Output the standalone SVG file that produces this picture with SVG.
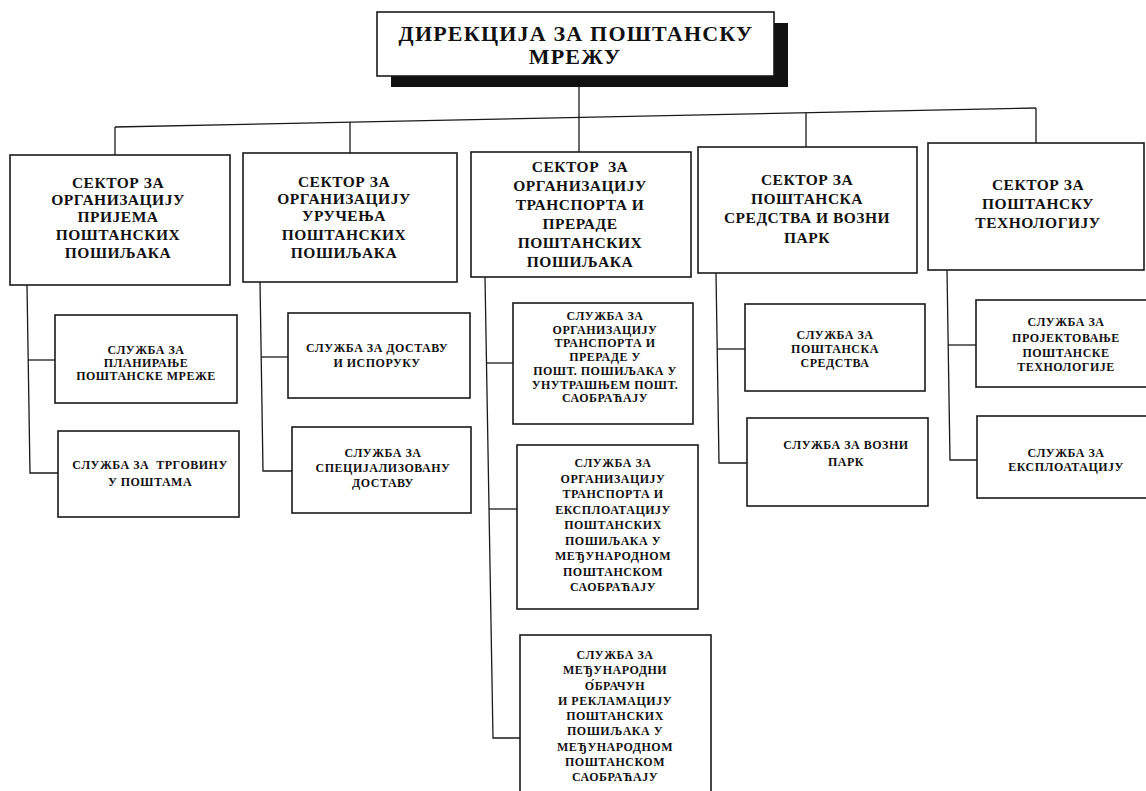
<svg xmlns="http://www.w3.org/2000/svg" width="1146" height="791" viewBox="0 0 1146 791">
<style>
.bg{fill:#ffffff}
.box{fill:#ffffff;stroke:#1a1a1a;stroke-width:1.6}
.shadow{fill:#111111}
.conn{fill:none;stroke:#1a1a1a;stroke-width:1.3}
text{font-family:"Liberation Serif","Times New Roman",serif;font-weight:bold;fill:#111111;text-anchor:middle}
.t0{font-size:22px;letter-spacing:1.2px}
.t1{font-size:15.5px;letter-spacing:0.5px}
.t2{font-size:12px;letter-spacing:0.5px}
</style>
<rect class="bg" x="0" y="0" width="1146" height="791"/>

<g id="connectors">
<line class="conn" x1="579" y1="87" x2="579" y2="117"/>
<line class="conn" x1="115" y1="127" x2="1036" y2="108"/>
<line class="conn" x1="115" y1="127" x2="115" y2="155"/>
<line class="conn" x1="350" y1="122" x2="350" y2="153"/>
<line class="conn" x1="579" y1="117" x2="579" y2="152"/>
<line class="conn" x1="806" y1="113" x2="806" y2="147"/>
<line class="conn" x1="1036" y1="108" x2="1036" y2="143"/>
<polyline class="conn" points="27,285 30,473 58,473"/>
<line class="conn" x1="28" y1="360" x2="55" y2="360"/>
<polyline class="conn" points="260,282 263,471 292,471"/>
<line class="conn" x1="261" y1="357" x2="288" y2="357"/>
<polyline class="conn" points="485,277 493,738 520,738"/>
<line class="conn" x1="487" y1="363" x2="513" y2="363"/>
<line class="conn" x1="489" y1="509" x2="517" y2="509"/>
<polyline class="conn" points="716,273 719,463 747,463"/>
<line class="conn" x1="717" y1="349" x2="745" y2="349"/>
<polyline class="conn" points="947,270 950,460 977,460"/>
<line class="conn" x1="948" y1="345" x2="976" y2="345"/>
</g>

<g id="n-direkcija">
<rect class="shadow" x="391" y="23" width="397" height="64"/>
<rect class="box" x="377" y="12" width="397" height="64"/>
<text class="t0" x="576" y="41">ДИРЕКЦИЈА ЗА ПОШТАНСКУ</text>
<text class="t0" x="575" y="64">МРЕЖУ</text>
</g>

<g id="n-sektor1">
<rect class="box" x="10" y="155" width="220" height="130"/>
<text class="t1" x="118" y="188">СЕКТОР ЗА</text>
<text class="t1" x="118" y="205">ОРГАНИЗАЦИЈУ</text>
<text class="t1" x="118" y="222">ПРИЈЕМА</text>
<text class="t1" x="118" y="240">ПОШТАНСКИХ</text>
<text class="t1" x="118" y="258">ПОШИЉАКА</text>
</g>
<g id="n-sektor2">
<rect class="box" x="243" y="153" width="214" height="129"/>
<text class="t1" x="344" y="187">СЕКТОР ЗА</text>
<text class="t1" x="344" y="204">ОРГАНИЗАЦИЈУ</text>
<text class="t1" x="344" y="221">УРУЧЕЊА</text>
<text class="t1" x="344" y="240">ПОШТАНСКИХ</text>
<text class="t1" x="344" y="258">ПОШИЉАКА</text>
</g>
<g id="n-sektor3">
<rect class="box" x="471" y="152" width="220" height="125"/>
<text class="t1" x="580" y="172" xml:space="preserve">СЕКТОР  ЗА</text>
<text class="t1" x="580" y="191">ОРГАНИЗАЦИЈУ</text>
<text class="t1" x="580" y="210">ТРАНСПОРТА И</text>
<text class="t1" x="580" y="229">ПРЕРАДЕ</text>
<text class="t1" x="580" y="248">ПОШТАНСКИХ</text>
<text class="t1" x="580" y="267">ПОШИЉАКА</text>
</g>
<g id="n-sektor4">
<rect class="box" x="698" y="147" width="219" height="126"/>
<text class="t1" x="807" y="185">СЕКТОР ЗА</text>
<text class="t1" x="807" y="204">ПОШТАНСКА</text>
<text class="t1" x="807" y="223">СРЕДСТВА И ВОЗНИ</text>
<text class="t1" x="807" y="243">ПАРК</text>
</g>
<g id="n-sektor5">
<rect class="box" x="928" y="143" width="216" height="127"/>
<text class="t1" x="1038" y="190">СЕКТОР ЗА</text>
<text class="t1" x="1038" y="209">ПОШТАНСКУ</text>
<text class="t1" x="1038" y="228">ТЕХНОЛОГИЈУ</text>
</g>

<g id="n-s1a">
<rect class="box" x="55" y="315" width="182" height="88"/>
<text class="t2" x="146" y="354">СЛУЖБА ЗА</text>
<text class="t2" x="146" y="367">ПЛАНИРАЊЕ</text>
<text class="t2" x="146" y="380">ПОШТАНСКЕ МРЕЖЕ</text>
</g>
<g id="n-s1b">
<rect class="box" x="58" y="431" width="181" height="86"/>
<text class="t2" x="150" y="469" xml:space="preserve">СЛУЖБА ЗА  ТРГОВИНУ</text>
<text class="t2" x="150" y="486">У ПОШТАМА</text>
</g>
<g id="n-s2a">
<rect class="box" x="288" y="313" width="182" height="85"/>
<text class="t2" x="377" y="352">СЛУЖБА ЗА ДОСТАВУ</text>
<text class="t2" x="377" y="367">И ИСПОРУКУ</text>
</g>
<g id="n-s2b">
<rect class="box" x="292" y="427" width="179" height="86"/>
<text class="t2" x="383" y="457">СЛУЖБА ЗА</text>
<text class="t2" x="383" y="472">СПЕЦИЈАЛИЗОВАНУ</text>
<text class="t2" x="383" y="487">ДОСТАВУ</text>
</g>
<g id="n-s3a">
<rect class="box" x="513" y="303" width="180" height="121"/>
<text class="t2" x="605" y="320">СЛУЖБА ЗА</text>
<text class="t2" x="605" y="334">ОРГАНИЗАЦИЈУ</text>
<text class="t2" x="605" y="347">ТРАНСПОРТА И</text>
<text class="t2" x="605" y="361">ПРЕРАДЕ У</text>
<text class="t2" x="605" y="375">ПОШТ. ПОШИЉАКА У</text>
<text class="t2" x="605" y="389">УНУТРАШЊЕМ ПОШТ.</text>
<text class="t2" x="605" y="402">САОБРАЋАЈУ</text>
</g>
<g id="n-s3b">
<rect class="box" x="517" y="445" width="181" height="164"/>
<text class="t2" x="613" y="467">СЛУЖБА ЗА</text>
<text class="t2" x="613" y="483">ОРГАНИЗАЦИЈУ</text>
<text class="t2" x="613" y="498">ТРАНСПОРТА И</text>
<text class="t2" x="613" y="514">ЕКСПЛОАТАЦИЈУ</text>
<text class="t2" x="613" y="529">ПОШТАНСКИХ</text>
<text class="t2" x="613" y="545">ПОШИЉАКА У</text>
<text class="t2" x="613" y="560">МЕЂУНАРОДНОМ</text>
<text class="t2" x="613" y="576">ПОШТАНСКОМ</text>
<text class="t2" x="613" y="591">САОБРАЋАЈУ</text>
</g>
<g id="n-s3c">
<rect class="box" x="520" y="635" width="191" height="170"/>
<text class="t2" x="615" y="659">СЛУЖБА ЗА</text>
<text class="t2" x="615" y="674">МЕЂУНАРОДНИ</text>
<text class="t2" x="615" y="690">О́БРАЧУН</text>
<text class="t2" x="615" y="705">И РЕКЛАМАЦИЈУ</text>
<text class="t2" x="615" y="720">ПОШТАНСКИХ</text>
<text class="t2" x="615" y="735">ПОШИЉАКА У</text>
<text class="t2" x="615" y="751">МЕЂУНАРОДНОМ</text>
<text class="t2" x="615" y="766">ПОШТАНСКОМ</text>
<text class="t2" x="615" y="781">САОБРАЋАЈУ</text>
</g>
<g id="n-s4a">
<rect class="box" x="745" y="304" width="180" height="87"/>
<text class="t2" x="835" y="339">СЛУЖБА ЗА</text>
<text class="t2" x="835" y="353">ПОШТАНСКА</text>
<text class="t2" x="835" y="367">СРЕДСТВА</text>
</g>
<g id="n-s4b">
<rect class="box" x="747" y="418" width="181" height="88"/>
<text class="t2" x="846" y="449">СЛУЖБА ЗА ВОЗНИ</text>
<text class="t2" x="846" y="466">ПАРК</text>
</g>
<g id="n-s5a">
<rect class="box" x="976" y="300" width="180" height="87"/>
<text class="t2" x="1066" y="326">СЛУЖБА ЗА</text>
<text class="t2" x="1066" y="342">ПРОЈЕКТОВАЊЕ</text>
<text class="t2" x="1066" y="357">ПОШТАНСКЕ</text>
<text class="t2" x="1066" y="371">ТЕХНОЛОГИЈЕ</text>
</g>
<g id="n-s5b">
<rect class="box" x="977" y="416" width="180" height="82"/>
<text class="t2" x="1066" y="457">СЛУЖБА ЗА</text>
<text class="t2" x="1066" y="471">ЕКСПЛОАТАЦИЈУ</text>
</g>
</svg>
